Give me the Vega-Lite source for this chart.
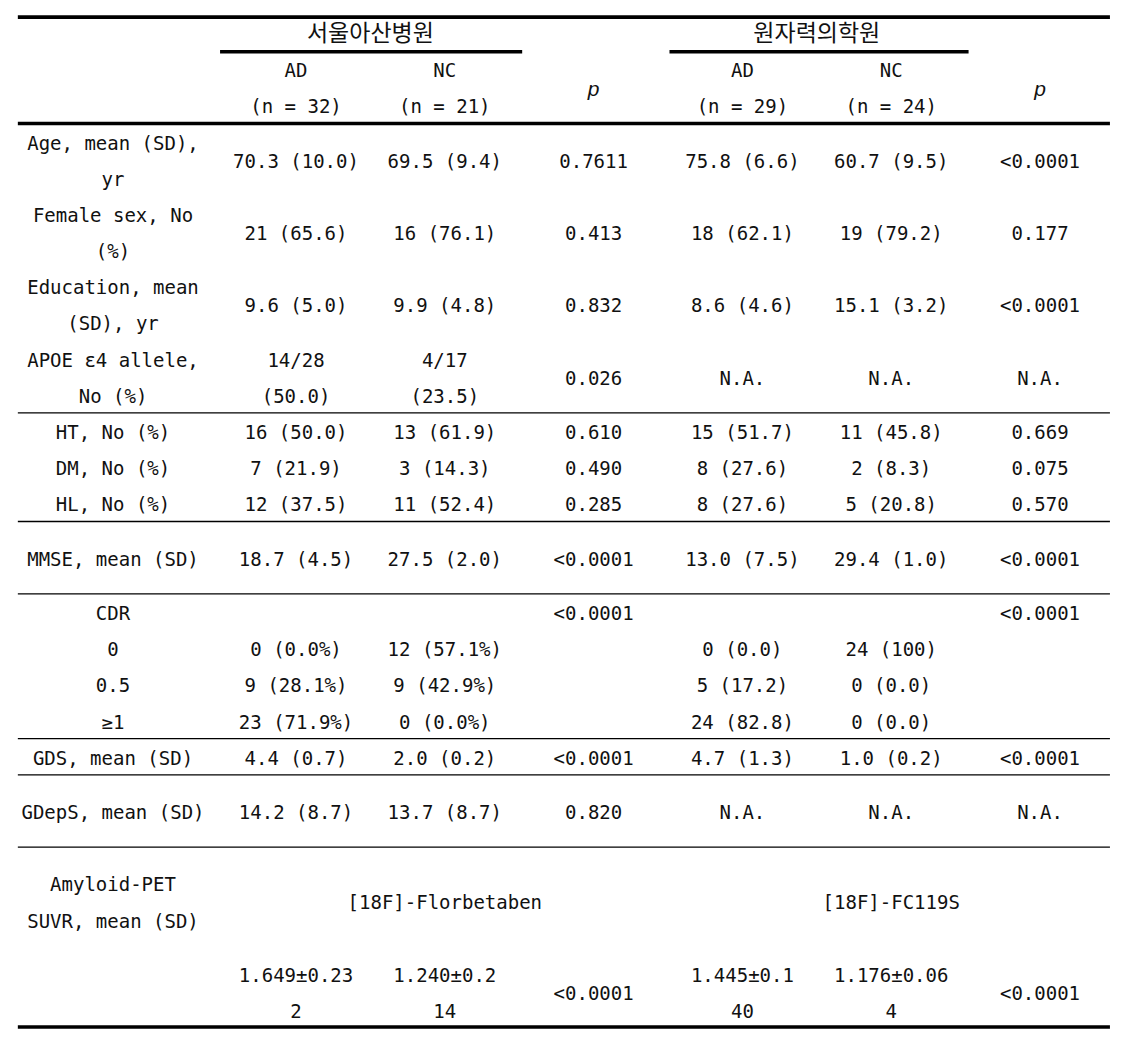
{
  "$schema": "https://vega.github.io/schema/vega-lite/v6.json",
  "width": 1121,
  "height": 1041,
  "autosize": {"type": "fit", "contains": "padding"},
  "padding": 0,
  "background": "white",
  "config": {"view": {"stroke": null}},
  "datasets": {
    "major": [
      {"col": -0.52, "col2": 6.47, "line": -0.44},
      {"col": -0.52, "col2": 6.47, "line": 2.5},
      {"col": -0.52, "col2": 6.47, "line": 27.47},
      {"col": 0.585, "col2": 2.52, "line": 0.52},
      {"col": 3.51, "col2": 5.52, "line": 0.52}
    ],
    "minor": [
      {"col": -0.52, "col2": 6.47, "line": 10.5},
      {"col": -0.52, "col2": 6.47, "line": 13.5},
      {"col": -0.52, "col2": 6.47, "line": 15.5},
      {"col": -0.52, "col2": 6.47, "line": 19.5},
      {"col": -0.52, "col2": 6.47, "line": 20.5},
      {"col": -0.52, "col2": 6.47, "line": 22.5}
    ],
    "groups": [
      {"col": 1.5, "line": 0, "text": "서울아산병원"},
      {"col": 4.5, "line": 0, "text": "원자력의학원"}
    ],
    "pvals": [
      {"col": 3, "line": 1.55, "text": "p"},
      {"col": 6, "line": 1.55, "text": "p"}
    ],
    "cells": [
      {"col": 1, "line": 1, "text": "AD"},
      {"col": 2, "line": 1, "text": "NC"},
      {"col": 4, "line": 1, "text": "AD"},
      {"col": 5, "line": 1, "text": "NC"},
      {"col": 1, "line": 2, "text": "(n = 32)"},
      {"col": 2, "line": 2, "text": "(n = 21)"},
      {"col": 4, "line": 2, "text": "(n = 29)"},
      {"col": 5, "line": 2, "text": "(n = 24)"},

      {"col": 0, "line": 3, "text": "Age, mean (SD),"},
      {"col": 0, "line": 4, "text": "yr"},
      {"col": 1, "line": 3.5, "text": "70.3 (10.0)"},
      {"col": 2, "line": 3.5, "text": "69.5 (9.4)"},
      {"col": 3, "line": 3.5, "text": "0.7611"},
      {"col": 4, "line": 3.5, "text": "75.8 (6.6)"},
      {"col": 5, "line": 3.5, "text": "60.7 (9.5)"},
      {"col": 6, "line": 3.5, "text": "<0.0001"},

      {"col": 0, "line": 5, "text": "Female sex, No"},
      {"col": 0, "line": 6, "text": "(%)"},
      {"col": 1, "line": 5.5, "text": "21 (65.6)"},
      {"col": 2, "line": 5.5, "text": "16 (76.1)"},
      {"col": 3, "line": 5.5, "text": "0.413"},
      {"col": 4, "line": 5.5, "text": "18 (62.1)"},
      {"col": 5, "line": 5.5, "text": "19 (79.2)"},
      {"col": 6, "line": 5.5, "text": "0.177"},

      {"col": 0, "line": 7, "text": "Education, mean"},
      {"col": 0, "line": 8, "text": "(SD), yr"},
      {"col": 1, "line": 7.5, "text": "9.6 (5.0)"},
      {"col": 2, "line": 7.5, "text": "9.9 (4.8)"},
      {"col": 3, "line": 7.5, "text": "0.832"},
      {"col": 4, "line": 7.5, "text": "8.6 (4.6)"},
      {"col": 5, "line": 7.5, "text": "15.1 (3.2)"},
      {"col": 6, "line": 7.5, "text": "<0.0001"},

      {"col": 0, "line": 9, "text": "APOE ε4 allele,"},
      {"col": 0, "line": 10, "text": "No (%)"},
      {"col": 1, "line": 9, "text": "14/28"},
      {"col": 1, "line": 10, "text": "(50.0)"},
      {"col": 2, "line": 9, "text": "4/17"},
      {"col": 2, "line": 10, "text": "(23.5)"},
      {"col": 3, "line": 9.5, "text": "0.026"},
      {"col": 4, "line": 9.5, "text": "N.A."},
      {"col": 5, "line": 9.5, "text": "N.A."},
      {"col": 6, "line": 9.5, "text": "N.A."},

      {"col": 0, "line": 11, "text": "HT, No (%)"},
      {"col": 1, "line": 11, "text": "16 (50.0)"},
      {"col": 2, "line": 11, "text": "13 (61.9)"},
      {"col": 3, "line": 11, "text": "0.610"},
      {"col": 4, "line": 11, "text": "15 (51.7)"},
      {"col": 5, "line": 11, "text": "11 (45.8)"},
      {"col": 6, "line": 11, "text": "0.669"},

      {"col": 0, "line": 12, "text": "DM, No (%)"},
      {"col": 1, "line": 12, "text": "7 (21.9)"},
      {"col": 2, "line": 12, "text": "3 (14.3)"},
      {"col": 3, "line": 12, "text": "0.490"},
      {"col": 4, "line": 12, "text": "8 (27.6)"},
      {"col": 5, "line": 12, "text": "2 (8.3)"},
      {"col": 6, "line": 12, "text": "0.075"},

      {"col": 0, "line": 13, "text": "HL, No (%)"},
      {"col": 1, "line": 13, "text": "12 (37.5)"},
      {"col": 2, "line": 13, "text": "11 (52.4)"},
      {"col": 3, "line": 13, "text": "0.285"},
      {"col": 4, "line": 13, "text": "8 (27.6)"},
      {"col": 5, "line": 13, "text": "5 (20.8)"},
      {"col": 6, "line": 13, "text": "0.570"},

      {"col": 0, "line": 14.5, "text": "MMSE, mean (SD)"},
      {"col": 1, "line": 14.5, "text": "18.7 (4.5)"},
      {"col": 2, "line": 14.5, "text": "27.5 (2.0)"},
      {"col": 3, "line": 14.5, "text": "<0.0001"},
      {"col": 4, "line": 14.5, "text": "13.0 (7.5)"},
      {"col": 5, "line": 14.5, "text": "29.4 (1.0)"},
      {"col": 6, "line": 14.5, "text": "<0.0001"},

      {"col": 0, "line": 16, "text": "CDR"},
      {"col": 3, "line": 16, "text": "<0.0001"},
      {"col": 6, "line": 16, "text": "<0.0001"},
      {"col": 0, "line": 17, "text": "0"},
      {"col": 1, "line": 17, "text": "0 (0.0%)"},
      {"col": 2, "line": 17, "text": "12 (57.1%)"},
      {"col": 4, "line": 17, "text": "0 (0.0)"},
      {"col": 5, "line": 17, "text": "24 (100)"},
      {"col": 0, "line": 18, "text": "0.5"},
      {"col": 1, "line": 18, "text": "9 (28.1%)"},
      {"col": 2, "line": 18, "text": "9 (42.9%)"},
      {"col": 4, "line": 18, "text": "5 (17.2)"},
      {"col": 5, "line": 18, "text": "0 (0.0)"},
      {"col": 0, "line": 19, "text": "≥1"},
      {"col": 1, "line": 19, "text": "23 (71.9%)"},
      {"col": 2, "line": 19, "text": "0 (0.0%)"},
      {"col": 4, "line": 19, "text": "24 (82.8)"},
      {"col": 5, "line": 19, "text": "0 (0.0)"},

      {"col": 0, "line": 20, "text": "GDS, mean (SD)"},
      {"col": 1, "line": 20, "text": "4.4 (0.7)"},
      {"col": 2, "line": 20, "text": "2.0 (0.2)"},
      {"col": 3, "line": 20, "text": "<0.0001"},
      {"col": 4, "line": 20, "text": "4.7 (1.3)"},
      {"col": 5, "line": 20, "text": "1.0 (0.2)"},
      {"col": 6, "line": 20, "text": "<0.0001"},

      {"col": 0, "line": 21.5, "text": "GDepS, mean (SD)"},
      {"col": 1, "line": 21.5, "text": "14.2 (8.7)"},
      {"col": 2, "line": 21.5, "text": "13.7 (8.7)"},
      {"col": 3, "line": 21.5, "text": "0.820"},
      {"col": 4, "line": 21.5, "text": "N.A."},
      {"col": 5, "line": 21.5, "text": "N.A."},
      {"col": 6, "line": 21.5, "text": "N.A."},

      {"col": 0, "line": 23.5, "text": "Amyloid-PET"},
      {"col": 0, "line": 24.5, "text": "SUVR, mean (SD)"},
      {"col": 2, "line": 24, "text": "[18F]-Florbetaben"},
      {"col": 5, "line": 24, "text": "[18F]-FC119S"},
      {"col": 1, "line": 26, "text": "1.649±0.23"},
      {"col": 1, "line": 27, "text": "2"},
      {"col": 2, "line": 26, "text": "1.240±0.2"},
      {"col": 2, "line": 27, "text": "14"},
      {"col": 3, "line": 26.5, "text": "<0.0001"},
      {"col": 4, "line": 26, "text": "1.445±0.1"},
      {"col": 4, "line": 27, "text": "40"},
      {"col": 5, "line": 26, "text": "1.176±0.06"},
      {"col": 5, "line": 27, "text": "4"},
      {"col": 6, "line": 26.5, "text": "<0.0001"}
    ]
  },
  "encoding": {
    "x": {"field": "col", "type": "quantitative", "axis": null,
          "scale": {"domain": [0, 1, 6], "range": [113, 296, 1040], "zero": false, "nice": false}},
    "y": {"field": "line", "type": "quantitative", "axis": null,
          "scale": {"domain": [0, 27], "range": [33, 1010], "zero": false, "nice": false}}
  },
  "layer": [
    {
      "data": {"name": "major"},
      "mark": {"type": "rule", "color": "black", "strokeWidth": 3.6},
      "encoding": {"x2": {"field": "col2"}}
    },
    {
      "data": {"name": "minor"},
      "mark": {"type": "rule", "color": "black", "strokeWidth": 1.3},
      "encoding": {"x2": {"field": "col2"}}
    },
    {
      "data": {"name": "cells"},
      "mark": {"type": "text", "font": "DejaVu Sans Mono", "fontSize": 19, "color": "#111", "align": "center", "baseline": "middle", "dy": 2},
      "encoding": {"text": {"field": "text", "type": "nominal"}}
    },
    {
      "data": {"name": "groups"},
      "mark": {"type": "text", "font": "Noto Sans CJK KR", "fontSize": 23, "color": "#111", "align": "center", "baseline": "middle", "dy": 1},
      "encoding": {"text": {"field": "text", "type": "nominal"}}
    },
    {
      "data": {"name": "pvals"},
      "mark": {"type": "text", "font": "Liberation Sans", "fontSize": 21, "fontStyle": "italic", "color": "#111", "align": "center", "baseline": "middle", "dy": 1},
      "encoding": {"text": {"field": "text", "type": "nominal"}}
    }
  ]
}
